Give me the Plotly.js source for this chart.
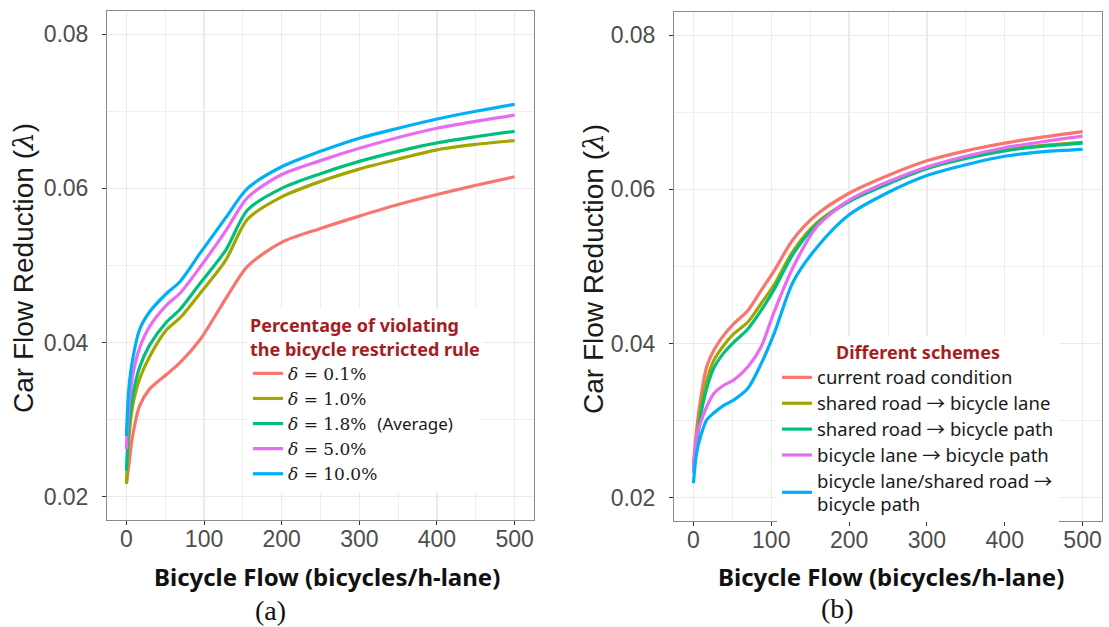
<!DOCTYPE html>
<html>
<head>
<meta charset="utf-8">
<script src="https://cdn.plot.ly/plotly-3.0.1.min.js"></script>
<style>
  html, body { margin: 0; padding: 0; background: #ffffff; }
  #chart { width: 1109px; height: 627px; }
</style>
</head>
<body>
<div id="chart"></div>
<script>
// ---- Panel (a): car flow reduction vs bicycle flow, by violation rate ----
const flowA = [0, 3, 8, 17, 30, 52, 69, 95, 128, 156, 200, 250, 300, 350, 400, 450, 500];
const delta01  = [0.0217, 0.0240, 0.0279, 0.0318, 0.0340, 0.0359, 0.0374, 0.0404, 0.0457, 0.0499, 0.0530, 0.0548, 0.0564, 0.0579, 0.0592, 0.0604, 0.0615];
const delta10  = [0.0217, 0.0275, 0.0318, 0.0353, 0.0382, 0.0417, 0.0432, 0.0464, 0.0507, 0.0560, 0.0589, 0.0609, 0.0625, 0.0638, 0.0650, 0.0657, 0.0662];
const delta18  = [0.0234, 0.0290, 0.0331, 0.0368, 0.0397, 0.0427, 0.0443, 0.0477, 0.0520, 0.0572, 0.0600, 0.0619, 0.0635, 0.0648, 0.0659, 0.0667, 0.0674];
const delta50  = [0.0262, 0.0315, 0.0357, 0.0393, 0.0421, 0.0449, 0.0464, 0.0498, 0.0545, 0.0588, 0.0618, 0.0636, 0.0652, 0.0666, 0.0678, 0.0687, 0.0695];
const delta100 = [0.0279, 0.0339, 0.0378, 0.0417, 0.0440, 0.0464, 0.0479, 0.0516, 0.0562, 0.0600, 0.0628, 0.0648, 0.0665, 0.0678, 0.0690, 0.0700, 0.0709];
const namesA = [
  '<i>δ</i> = 0.1%',
  '<i>δ</i> = 1.0%',
  '<i>δ</i> = 1.8%\u00a0 <span style="font-family:Noto Sans">(Average)</span>',
  '<i>δ</i> = 5.0%',
  '<i>δ</i> = 10.0%'
];

// ---- Panel (b): car flow reduction vs bicycle flow, by infrastructure scheme ----
const flowB = [0, 4, 9, 17, 26, 39, 52, 70, 87, 104, 128, 158, 200, 250, 300, 350, 400, 450, 500];
const currentRoad   = [0.0245, 0.0288, 0.0327, 0.0370, 0.0391, 0.0411, 0.0426, 0.0443, 0.0469, 0.0495, 0.0535, 0.0567, 0.0595, 0.0618, 0.0637, 0.0650, 0.0660, 0.0668, 0.0675];
const sharedToLane  = [0.0237, 0.0275, 0.0314, 0.0352, 0.0378, 0.0398, 0.0413, 0.0428, 0.0452, 0.0477, 0.0520, 0.0556, 0.0585, 0.0608, 0.0627, 0.0641, 0.0651, 0.0657, 0.0661];
const sharedToPath  = [0.0234, 0.0268, 0.0305, 0.0342, 0.0368, 0.0388, 0.0402, 0.0419, 0.0443, 0.0471, 0.0516, 0.0554, 0.0584, 0.0607, 0.0627, 0.0640, 0.0650, 0.0656, 0.0660];
const laneToPath    = [0.0232, 0.0279, 0.0297, 0.0318, 0.0335, 0.0346, 0.0353, 0.0370, 0.0396, 0.0442, 0.0499, 0.0551, 0.0586, 0.0610, 0.0629, 0.0643, 0.0654, 0.0662, 0.0669];
const laneSharedToPath = [0.0219, 0.0258, 0.0279, 0.0301, 0.0310, 0.0320, 0.0327, 0.0342, 0.0374, 0.0414, 0.0480, 0.0524, 0.0567, 0.0596, 0.0618, 0.0632, 0.0643, 0.0649, 0.0652];
const arrow = '<span style="font-family:Noto Sans CJK SC">→</span>';
const namesB = [
  'current road condition',
  'shared road ' + arrow + ' bicycle lane',
  'shared road ' + arrow + ' bicycle path',
  'bicycle lane ' + arrow + ' bicycle path',
  'bicycle lane/shared road ' + arrow + '<br>bicycle path'
].map(s => '<span style="font-size:18.5px">' + s.replace('<br>', '</span><br><span style="font-size:18.5px">') + '</span>');

const palette = ['#F8766D', '#A3A500', '#00BF7D', '#E76BF3', '#00B0F6'];
const yTicks = [0.02, 0.04, 0.06, 0.08];
const xTicks = [0, 100, 200, 300, 400, 500];

const seriesA = [delta01, delta10, delta18, delta50, delta100];
const seriesB = [currentRoad, sharedToLane, sharedToPath, laneToPath, laneSharedToPath];

const traces = [];
seriesA.forEach((ys, i) => traces.push({
  type: 'scatter', mode: 'lines', x: flowA, y: ys, name: namesA[i],
  xaxis: 'x', yaxis: 'y', legend: 'legend',
  line: { color: palette[i], width: 3.2, shape: 'spline', smoothing: 0.8 }
}));
seriesB.forEach((ys, i) => traces.push({
  type: 'scatter', mode: 'lines', x: flowB, y: ys, name: namesB[i],
  xaxis: 'x2', yaxis: 'y2', legend: 'legend2',
  line: { color: palette[i], width: 3.2, shape: 'spline', smoothing: 0.8 }
}));

const W = 1109, H = 627;
const px = v => v / W;
const py = v => 1 - v / H;

const tickFont = { family: 'Liberation Sans, Arial, sans-serif', size: 23, color: '#4d4d4d' };

function xAxis(left, right, yname) {
  return {
    domain: [px(left), px(right)], anchor: yname,
    range: [-25, 525], tickvals: xTicks, ticktext: xTicks.map(String),
    showgrid: true, gridcolor: '#ebebeb', gridwidth: 1.2,
    minor: { dtick: 50, tick0: 0, showgrid: true, gridcolor: '#efefef', gridwidth: 1, ticks: '' },
    zeroline: false, showline: true, mirror: true, linecolor: '#8a8a8a', linewidth: 1,
    ticks: 'outside', ticklen: 4, tickwidth: 1, tickcolor: '#333333',
    tickfont: tickFont, ticklabelstandoff: -6, fixedrange: true
  };
}
function yAxis(top, bottom, xname) {
  return {
    domain: [py(bottom), py(top)], anchor: xname,
    range: [0.017, 0.083], tickvals: yTicks, ticktext: yTicks.map(v => v.toFixed(2)),
    showgrid: true, gridcolor: '#ebebeb', gridwidth: 1.2,
    minor: { dtick: 0.01, tick0: 0.02, showgrid: true, gridcolor: '#efefef', gridwidth: 1, ticks: '' },
    zeroline: false, showline: true, mirror: true, linecolor: '#8a8a8a', linewidth: 1,
    ticks: 'outside', ticklen: 4, tickwidth: 1, tickcolor: '#333333',
    tickfont: tickFont, ticklabelstandoff: 9, fixedrange: true
  };
}

const yTitleText = 'Car Flow Reduction (<span style="font-family:DejaVu Serif"><i>λ</i></span>)';
const xTitleText = '<b>Bicycle Flow (bicycles/h-lane)</b>';
const titleFont = { family: 'Liberation Sans, Arial, sans-serif', size: 28, color: '#1a1a1a' };
const xTitleFont = { family: 'Noto Sans, sans-serif', size: 24, color: '#111111' };
const panelFont = { family: 'Liberation Serif, Times New Roman, serif', size: 28, color: '#111111' };

const layout = {
  width: W, height: H,
  margin: { l: 0, r: 0, t: 0, b: 0 },
  paper_bgcolor: '#ffffff', plot_bgcolor: '#ffffff',
  showlegend: true,
  xaxis: xAxis(107, 534, 'y'),
  yaxis: yAxis(11, 520, 'x'),
  xaxis2: xAxis(674, 1102, 'y2'),
  yaxis2: yAxis(12, 521, 'x2'),
  legend: {
    x: px(248), y: py(309), xanchor: 'left', yanchor: 'top',
    bgcolor: '#ffffff', borderwidth: 0, itemwidth: 30, tracegroupgap: 0,
    font: { family: 'DejaVu Serif, serif', size: 17, color: '#1a1a1a' },
    title: {
      text: '<b>Percentage of violating<br>the bicycle restricted rule</b>',
      side: 'top',
      font: { family: 'Noto Sans, sans-serif', size: 18, color: '#a51d22' }
    }
  },
  legend2: {
    x: px(777), y: py(336), xanchor: 'left', yanchor: 'top',
    bgcolor: '#ffffff', borderwidth: 0, itemwidth: 30, tracegroupgap: 0,
    font: { family: 'Noto Sans, sans-serif', size: 17.6, color: '#1a1a1a' },
    title: {
      text: '<b>Different schemes</b>',
      side: 'top center',
      font: { family: 'Noto Sans, sans-serif', size: 18, color: '#a51d22' }
    }
  },
  annotations: [
    { text: yTitleText, xref: 'paper', yref: 'paper', x: px(24), y: py(268), textangle: -90,
      showarrow: false, xanchor: 'center', yanchor: 'middle', font: titleFont },
    { text: yTitleText, xref: 'paper', yref: 'paper', x: px(593), y: py(269), textangle: -90,
      showarrow: false, xanchor: 'center', yanchor: 'middle', font: titleFont },
    { text: xTitleText, xref: 'paper', yref: 'paper', x: px(327), y: py(576),
      showarrow: false, xanchor: 'center', yanchor: 'middle', font: xTitleFont },
    { text: xTitleText, xref: 'paper', yref: 'paper', x: px(891), y: py(576),
      showarrow: false, xanchor: 'center', yanchor: 'middle', font: xTitleFont },
    { text: '(a)', xref: 'paper', yref: 'paper', x: px(270), y: py(610),
      showarrow: false, xanchor: 'center', yanchor: 'middle', font: panelFont },
    { text: '(b)', xref: 'paper', yref: 'paper', x: px(837), y: py(608),
      showarrow: false, xanchor: 'center', yanchor: 'middle', font: panelFont }
  ]
};

Plotly.newPlot('chart', traces, layout, { staticPlot: true, displayModeBar: false });
</script>
</body>
</html>
